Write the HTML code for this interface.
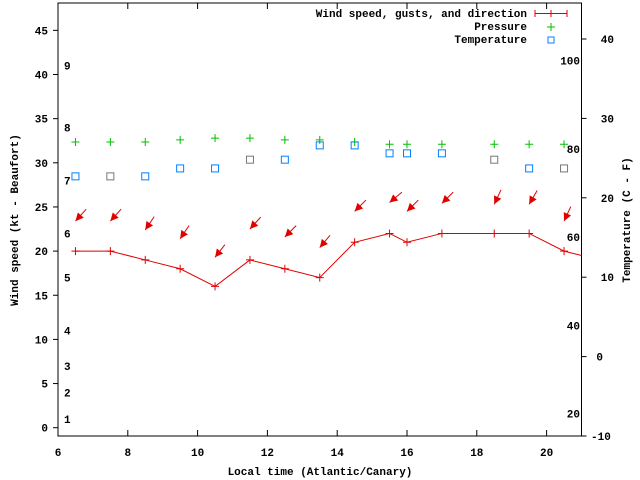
<!DOCTYPE html>
<html><head><meta charset="utf-8"><style>
body{margin:0;background:#fff}
svg{display:block}
text{font-family:"Liberation Mono","DejaVu Sans Mono",monospace;font-weight:bold;font-size:11px;fill:#000}
</style></head><body>
<svg id="chart" width="640" height="480" viewBox="0 0 640 480" xmlns="http://www.w3.org/2000/svg">
<defs><clipPath id="clip"><rect x="58" y="3" width="523.5" height="433"/></clipPath></defs>
<g id="axes"></g>
<g id="marks" clip-path="url(#clip)"></g>
<g id="legend"></g>
</svg>
<script>
const xTicks=[6,8,10,12,14,16,18,20];
const yTicks=[0,5,10,15,20,25,30,35,40,45];
const tTicks=[-10,0,10,20,30,40];
const fTicks=[20,40,60,80,100];
const beaufortKt=[1,4,7,11,17,22,28,34,41];
const times=[6.5,7.5,8.5,9.5,10.5,11.5,12.5,13.5,14.5,15.5,16,17,18.5,19.5,20.5,21.5];
const windKt=[20,20,19,18,16,19,18,17,21,22,21,22,22,22,20,19];
const gustKt=[23.4,23.4,22.4,21.4,19.3,22.5,21.6,20.4,24.5,25.5,24.5,25.4,25.3,25.3,23.4];
const windDir=[42,42,34,34,38,42,45,40,45,50,45,45,25,30,25];
const pressure=[32.35,32.35,32.35,32.6,32.8,32.8,32.6,32.6,32.35,32.1,32.1,32.1,32.1,32.1,32.1];
const tempC=[22.7,22.7,22.7,23.7,23.7,24.8,24.8,26.6,26.6,25.6,25.6,25.6,24.8,23.7,23.7];
const tempGray=[0,1,0,0,0,1,0,0,0,0,0,0,1,0,1];

const L=58,R=581.5,T=3,B=436;
const X=t=>L+(t-6)*(R-L)/15;
const Y=v=>427.7-v*8.83;
const YT=c=>356.6-c*7.94;
const NS="http://www.w3.org/2000/svg";
function mk(p,tag,a){const e=document.createElementNS(NS,tag);for(const k in a)e.setAttribute(k,a[k]);p.appendChild(e);return e;}
const ax=document.getElementById('axes'),mg=document.getElementById('marks'),lg=document.getElementById('legend');

let fr=mk(ax,'rect',{x:L,y:T,width:R-L,height:B-T,fill:'none',stroke:'#000','stroke-width':1});


xTicks.forEach(t=>{
  mk(ax,'line',{x1:X(t),x2:X(t),y1:B,y2:B-6,stroke:'#000'});
  mk(ax,'line',{x1:X(t),x2:X(t),y1:T,y2:T+6,stroke:'#000'});
  let e=mk(ax,'text',{x:X(t),y:B+20,'text-anchor':'middle'});e.textContent=t;
  
  
});
yTicks.forEach(v=>{
  mk(ax,'line',{x1:L-5,x2:L,y1:Y(v),y2:Y(v),stroke:'#000'});
  let e=mk(ax,'text',{x:L-10,y:Y(v)+4,'text-anchor':'end'});e.textContent=v;
  
  
});
tTicks.forEach(c=>{
  mk(ax,'line',{x1:R,x2:R+5,y1:YT(c),y2:YT(c),stroke:'#000'});
  let e=mk(ax,'text',{x:c<0?591:(c>=10?614:603),y:YT(c)+4,'text-anchor':c<0?'start':'end'});e.textContent=c;
  
  
});
fTicks.forEach(f=>{
  let e=mk(ax,'text',{x:580,y:YT((f-32)*5/9)+8,'text-anchor':'end'});e.textContent=f;
  
  
});
beaufortKt.forEach((k,i)=>{
  let e=mk(ax,'text',{x:64,y:Y(k)+4});e.textContent=i+1;
  
  
});
let xt=mk(ax,'text',{x:320,y:475,'text-anchor':'middle'});xt.textContent='Local time (Atlantic/Canary)';


let yt=mk(ax,'text',{x:0,y:0,'text-anchor':'middle',transform:'translate(18,220) rotate(-90)'});yt.textContent='Wind speed (kt - Beaufort)';


let y2=mk(ax,'text',{x:0,y:0,'text-anchor':'middle',transform:'translate(630,220) rotate(-90)'});y2.textContent='Temperature (C - F)';



// wind line
let pts=times.map((t,i)=>X(t)+','+Y(windKt[i])).join(' ');
let wl=mk(mg,'polyline',{points:pts,fill:'none',stroke:'#e00000','stroke-width':1});


times.forEach((t,i)=>{
  let g=mk(mg,'path',{d:`M${X(t)-4},${Y(windKt[i])}h8M${X(t)},${Y(windKt[i])-4}v8`,stroke:'#e00000'});
  
  
});
// gust arrows
gustKt.forEach((g,i)=>{
  const tx=X(times[i])-0, ty=Y(g);
  const a=windDir[i]*Math.PI/180, len=16;
  const dx=Math.sin(a), dy=-Math.cos(a);
  const ex=tx+dx*len, ey=ty+dy*len;
  const gr=mk(mg,'g',{});
  
  
  mk(gr,'line',{x1:ex,y1:ey,x2:tx,y2:ty,stroke:'#e00000','stroke-width':1});
  const hl=8,hw=4;
  const bx=tx+dx*hl, by=ty+dy*hl;
  mk(gr,'polygon',{points:`${tx},${ty} ${bx-dy*hw},${by+dx*hw} ${bx+dy*hw},${by-dx*hw}`,fill:'#e00000'});
});
// pressure
pressure.forEach((p,i)=>{
  let e=mk(mg,'path',{d:`M${X(times[i])-4},${Y(p)}h8M${X(times[i])},${Y(p)-4}v8`,stroke:'#00c000'});
  
  
});
// temperature
tempC.forEach((c,i)=>{
  let e=mk(mg,'rect',{x:X(times[i])-3.5,y:YT(c)-3.5,width:7,height:7,fill:'none',stroke:tempGray[i]?'#777':'#0080ff'});
  
  
});
// legend
[['Wind speed, gusts, and direction',17],['Pressure',30],['Temperature',43]].forEach(([s,y])=>{
  let e=mk(lg,'text',{x:527,y:y,'text-anchor':'end'});e.textContent=s;
  
  
});
mk(lg,'path',{d:'M535,13.5h32M535,10v7M567,10v7M551,10v7',stroke:'#e00000'});
mk(lg,'path',{d:'M547,27h8M551,23v8',stroke:'#00c000'});
mk(lg,'rect',{x:548,y:37,width:6,height:6,fill:'none',stroke:'#0080ff'});
</script>
</body></html>
